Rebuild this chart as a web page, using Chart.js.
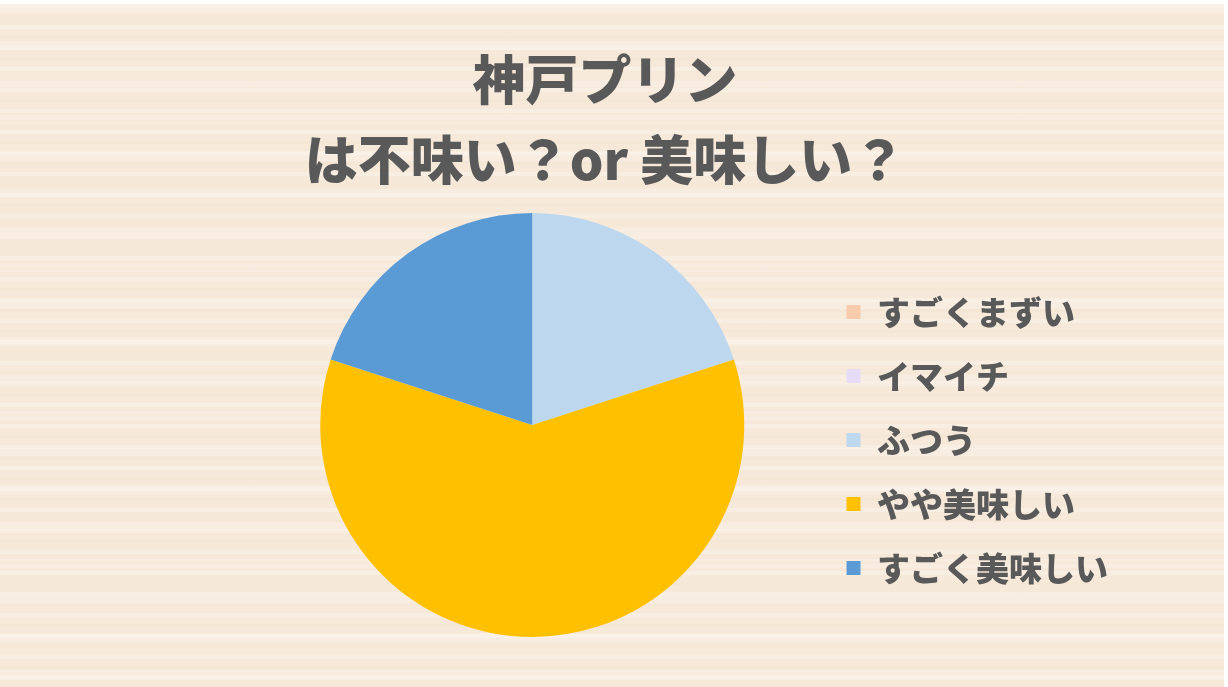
<!DOCTYPE html>
<html lang="ja">
<head>
<meta charset="utf-8">
<title>神戸プリン</title>
<script src="https://cdn.jsdelivr.net/npm/chart.js@4.4.1/dist/chart.umd.min.js"></script>
<style>
  html, body {
    margin: 0;
    padding: 0;
    width: 1228px;
    height: 687px;
    overflow: hidden;
    background: #fff;
  }
  /* ── soft beige backdrop with faint horizontal grain ── */
  #board {
    position: absolute;
    left: 0; top: 4px;
    width: 1224px; height: 683px;
    background-color: #f6e9da;
    background-image:
      repeating-linear-gradient(180deg, rgba(255,255,255,0.22) 0 4px, rgba(255,255,255,0) 4px 11px, rgba(238,215,185,0.12) 11px 14px, rgba(255,255,255,0) 14px 21px),
      repeating-linear-gradient(180deg, rgba(255,248,244,0.25) 0 9px, rgba(255,255,255,0) 9px 37px);
  }
  #title {
    position: absolute;
    left: 0; top: 37px;
    width: 1228px;
    padding-right: 18px;
    box-sizing: border-box;
    text-align: center;
    font-family: "Noto Sans CJK JP", sans-serif;
    font-weight: 900;
    font-size: 53px;
    line-height: 80px;
    color: #595959;
    margin: 0;
  }
  #wrap {
    position: absolute;
    left: 0; top: 0;
    width: 1228px; height: 687px;
  }
</style>
</head>
<body>
<div id="board"></div>
<h1 id="title">神戸プリン<br>は不味い？or 美味しい？</h1>
<div id="wrap"><canvas id="chart-pie"></canvas></div>

<script>
// ── Data ──
const categories  = ["すごくまずい", "イマイチ", "ふつう", "やや美味しい", "すごく美味しい"];
const votes       = [0, 0, 1, 3, 1];
const sliceColors = ["#F8CBAD", "#E6DCF7", "#BDD7EE", "#FFC000", "#5B9BD5"];

// ── Chart ──
const pieChart = new Chart(document.getElementById("chart-pie"), {
  type: "pie",
  data: {
    labels: categories,
    datasets: [{
      data: votes,
      backgroundColor: sliceColors,
      borderWidth: 0,
    }],
  },
  options: {
    responsive: true,
    maintainAspectRatio: false,
    animation: false,
    layout: {
      padding: { top: 213, bottom: 50, left: 249, right: 110 },
    },
    plugins: {
      tooltip: { enabled: false },
      legend: {
        position: "right",
        // blank title only nudges the rows down a bit
        title: { display: true, text: " ", font: { size: 10 }, padding: 9 },
        labels: {
          color: "#595959",
          font: { family: "'Noto Sans CJK JP', sans-serif", size: 33, weight: "900" },
          boxWidth: 14,
          boxHeight: 14,
          padding: 31,
        },
      },
    },
  },
});
</script>
</body>
</html>
